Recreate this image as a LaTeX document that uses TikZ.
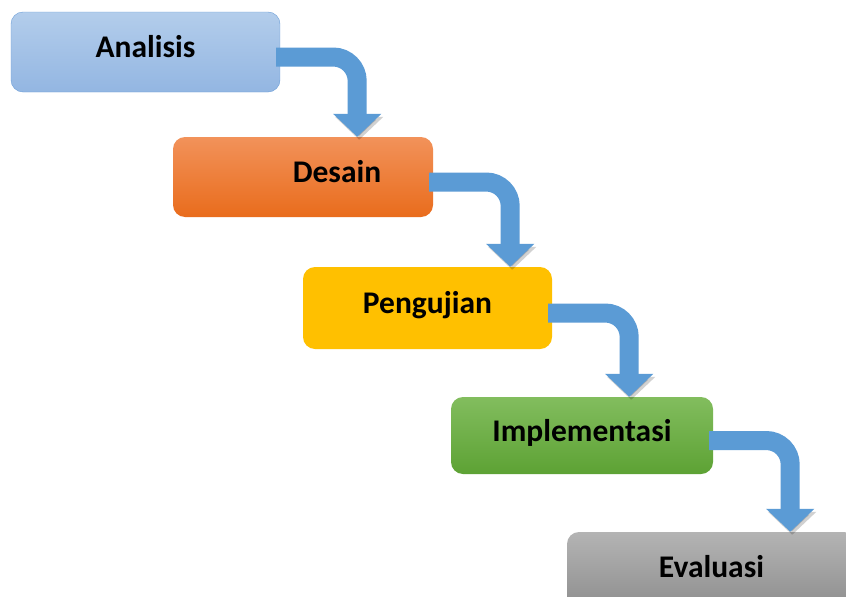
\documentclass[tikz,border=0pt]{standalone}
\usepackage{fontspec}
\setmainfont{Carlito}
\usetikzlibrary{arrows.meta}

\definecolor{anaTop}{HTML}{B3CDEB}
\definecolor{anaBot}{HTML}{93B6E2}
\definecolor{anaLine}{HTML}{6B9ED8}
\definecolor{desTop}{HTML}{F2925A}
\definecolor{desBot}{HTML}{E96C1C}
\definecolor{penFill}{HTML}{FFC000}
\definecolor{impTop}{HTML}{82BD5E}
\definecolor{impBot}{HTML}{5DA234}
\definecolor{evaTop}{HTML}{B4B4B4}
\definecolor{evaBot}{HTML}{8C8C8C}
\definecolor{flowBlue}{HTML}{5B9BD5}

\tikzset{
  stage/.style={rounded corners=12pt, inner sep=0pt,
    text height=21pt, text depth=10pt,
    font=\fontsize{31.5}{36}\selectfont\bfseries, text=black},
  flow/.style={draw=flowBlue, line width=19pt, rounded corners=24pt,
    -{Triangle[width=47pt,length=23pt]},
    preaction={draw=black, opacity=.18, transform canvas={shift={(2pt,-3pt)}}}}
}

\begin{document}
\begin{tikzpicture}[x=1pt,y=-1pt]
  \clip (0,0) rectangle (846,597);
  \fill[white] (0,0) rectangle (846,597);

  % the five stages
  \node[stage, top color=anaTop, bottom color=anaBot, draw=anaLine,
    minimum width=269pt, minimum height=80pt] (ana) at (145.5,52) {Analisis};
  \node[stage, top color=desTop, bottom color=desBot,
    minimum width=260pt, minimum height=80pt] (des) at (303,177) {\hspace*{68pt}Desain};
  \node[stage, fill=penFill,
    minimum width=249pt, minimum height=82pt] (pen) at (427.5,308) {Pengujian};
  \node[stage, top color=impTop, bottom color=impBot,
    minimum width=262pt, minimum height=77pt] (imp) at (582,435.5) {Implementasi};
  \node[stage, top color=evaTop, bottom color=evaBot,
    minimum width=289pt, minimum height=80pt] (eva) at (711.5,572) {Evaluasi};

  % bent arrows between stages
  \foreach \a/\b in {ana/des, des/pen, pen/imp, imp/eva} {
    \draw[flow] ([shift={(-4pt,-5pt)}]\a.east) -| ([xshift=77pt]\a.east |- \b.north);
  }
\end{tikzpicture}
\end{document}
